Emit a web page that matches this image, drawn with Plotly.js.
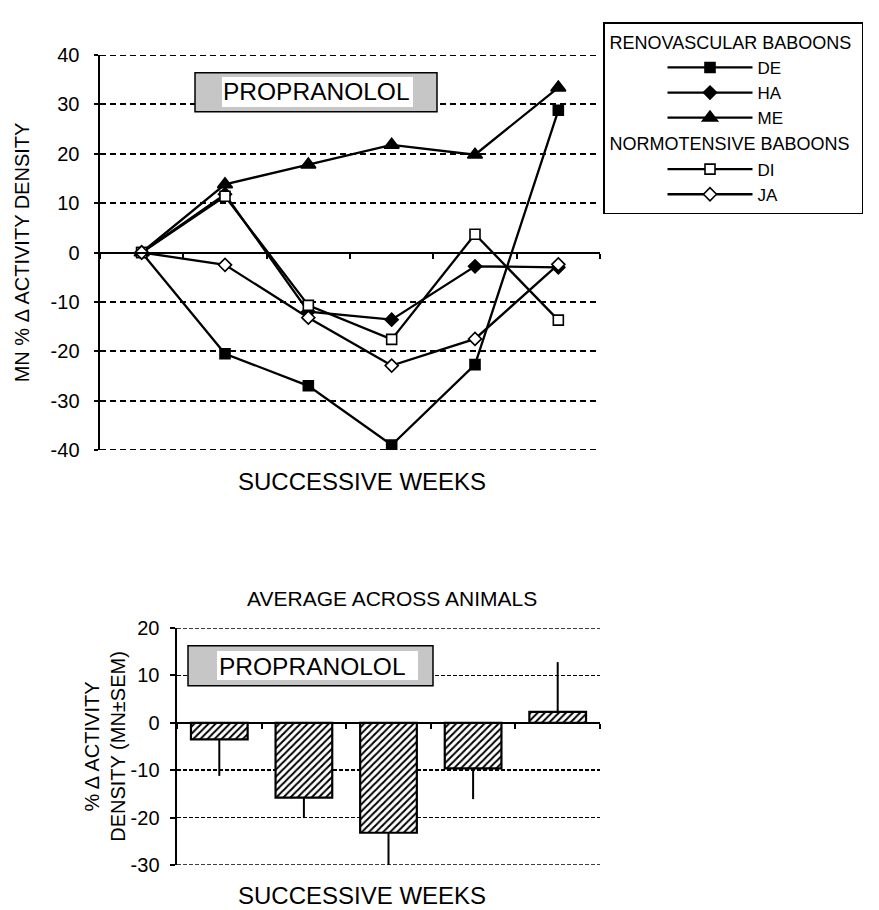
<!DOCTYPE html>
<html>
<head>
<meta charset="utf-8">
<script src="https://cdn.plot.ly/plotly-3.0.1.min.js"></script>
<style>html,body{margin:0;padding:0;background:#fff;}#chart{width:879px;height:910px;}</style>
</head>
<body>
<div id="chart"></div>
<script>
// ---------- data: top panel (individual animals) ----------
const weeksTop = [0, 1, 2, 3, 4, 5];
const seriesNames = ['DE', 'HA', 'ME', 'DI', 'JA'];
const valDE = [0, -20.5, -27, -39, -22.7, 28.8];
const valHA = [0, 11.8, -12, -13.6, -2.8, -3];
const valME = [0, 13.8, 17.8, 21.8, 19.8, 33.4];
const valDI = [0, 11.4, -10.7, -17.6, 3.7, -13.7];
const valJA = [0, -2.5, -13.2, -22.9, -17.5, -2.4];
const groupReno = 'RENOVASCULAR BABOONS';
const groupNormo = 'NORMOTENSIVE BABOONS';
const tickValsTop = [-40, -30, -20, -10, 0, 10, 20, 30, 40];
const tickTextTop = ['-40', '-30', '-20', '-10', '0', '10', '20', '30', '40'];

// ---------- data: bottom panel (average across animals) ----------
const weeksBottom = [1, 2, 3, 4, 5];
const avgVals = [-3.5, -15.8, -23.2, -9.6, 2.3];
const semVals = [7.7, 4.3, 6.8, 6.5, 10.5];
const tickValsBot = [-30, -20, -10, 0, 10, 20];
const tickTextBot = ['-30', '-20', '-10', '0', '10', '20'];

const txtX = 'SUCCESSIVE WEEKS';
const txtYTop = 'MN % Δ ACTIVITY DENSITY';
const txtYBot = '% Δ ACTIVITY<br>DENSITY (MN±SEM)';
const txtDrug = 'PROPRANOLOL';
const txtAvg = 'AVERAGE ACROSS ANIMALS';

const FONT = 'Liberation Sans, Arial, Helvetica, sans-serif';
const W = 879, H = 910;
const px = v => v / W;
const py = v => 1 - v / H;

function lineTrace(name, y, symbol, filled, group, gtitle) {
  return {
    type: 'scatter', mode: 'lines+markers', x: weeksTop, y: y, name: name,
    xaxis: 'x', yaxis: 'y',
    legendgroup: group, legendgrouptitle: {text: gtitle, font: {size: 18, color: '#000', family: FONT}},
    line: {color: '#000', width: 2.3},
    marker: {symbol: symbol, size: symbol === 'triangle-up' ? 13 : 10,
             color: filled ? '#000' : '#fff', line: {color: '#000', width: 1.6}}
  };
}

const traces = [
  lineTrace(seriesNames[0], valDE, 'square', true, 'reno', groupReno),
  lineTrace(seriesNames[1], valHA, 'diamond', true, 'reno', groupReno),
  lineTrace(seriesNames[2], valME, 'triangle-up', true, 'reno', groupReno),
  lineTrace(seriesNames[3], valDI, 'square', false, 'normo', groupNormo),
  lineTrace(seriesNames[4], valJA, 'diamond', false, 'normo', groupNormo),
  {
    type: 'bar', x: weeksBottom, y: avgVals, xaxis: 'x2', yaxis: 'y2', showlegend: false,
    width: 0.67,
    marker: {color: '#fff', line: {color: '#000', width: 2.2},
             pattern: {shape: '/', fgcolor: '#000', bgcolor: '#fff', size: 5, solidity: 0.4}},
    error_y: {type: 'data', symmetric: false,
              array: avgVals.map((v, i) => v >= 0 ? semVals[i] : 0),
              arrayminus: avgVals.map((v, i) => v < 0 ? semVals[i] : 0),
              color: '#000', thickness: 2, width: 0}
  }
];

const topDom = [py(450), py(55)];
const botDom = [py(865), py(628)];

const gridCommon = {gridcolor: '#000', showgrid: true, zeroline: false,
  showline: true, linecolor: '#000', ticks: 'outside', tickcolor: '#000',
  tickfont: {size: 20, color: '#000', family: FONT}, automargin: false};

// dashed lines at the outer gridline values (Plotly omits grid at the range edges)
function edgeGrid(xref, yref, yv, dash, w) {
  return {type: 'line', xref: xref + ' domain', yref: yref, x0: 0, x1: 1, y0: yv, y1: yv,
          line: {color: '#000', width: w, dash: dash}, layer: 'below'};
}

const layout = {
  width: W, height: H, margin: {l: 0, r: 0, t: 0, b: 0},
  paper_bgcolor: '#fff', plot_bgcolor: '#fff',
  font: {family: FONT, color: '#000'},
  xaxis: {domain: [px(100), px(600)], range: [-0.5, 5.5], anchor: 'free',
          position: topDom[0] + (topDom[1] - topDom[0]) * 0.5,
          showline: true, linecolor: '#000', linewidth: 2, showgrid: false, zeroline: false,
          ticks: 'outside', tick0: -0.5, dtick: 1, ticklen: 5, tickwidth: 2, tickcolor: '#000',
          showticklabels: false},
  yaxis: Object.assign({}, gridCommon, {domain: topDom, range: [-40, 40], anchor: 'x',
          tickmode: 'array', tickvals: tickValsTop, ticktext: tickTextTop,
          griddash: '6px,4px', gridwidth: 2, linewidth: 2.5, ticklen: 4, tickwidth: 2,
          ticklabelstandoff: 10,
          title: {text: txtYTop, font: {size: 20, color: '#000', family: FONT}, standoff: 16}}),
  xaxis2: {domain: [px(177), px(600)], range: [0.5, 5.5], anchor: 'free',
          position: botDom[0] + (botDom[1] - botDom[0]) * 0.6,
          showline: true, linecolor: '#000', linewidth: 2, showgrid: false, zeroline: false,
          ticks: 'outside', tick0: 0.5, dtick: 1, ticklen: 5, tickwidth: 2, tickcolor: '#000',
          showticklabels: false},
  yaxis2: Object.assign({}, gridCommon, {domain: botDom, range: [-30, 20], anchor: 'x2',
          tickmode: 'array', tickvals: tickValsBot, ticktext: tickTextBot,
          griddash: '4px,2px', gridwidth: 1.5, linewidth: 2.5, ticklen: 5, tickwidth: 2,
          ticklabelstandoff: 6,
          title: {text: txtYBot, font: {size: 20, color: '#000', family: FONT}, standoff: 0}}),
  legend: {x: px(603), y: py(22), xanchor: 'left', yanchor: 'top',
           bordercolor: '#000', borderwidth: 1.5, bgcolor: '#fff',
           font: {size: 17, color: '#000', family: FONT},
           tracegroupgap: 0, indentation: 58, itemwidth: 85},
  shapes: [
    edgeGrid('x', 'y', tickValsTop[tickValsTop.length - 1], '6px,4px', 2),
    edgeGrid('x', 'y', tickValsTop[0], '6px,4px', 2),
    edgeGrid('x2', 'y2', tickValsBot[tickValsBot.length - 1], '4px,2px', 1.5),
    edgeGrid('x2', 'y2', tickValsBot[0], '4px,2px', 1.5),
    {type: 'rect', xref: 'paper', yref: 'paper', x0: px(195), x1: px(437), y0: py(111.7), y1: py(72.7),
     fillcolor: '#c6c6c6', line: {color: '#000', width: 1.5}},
    {type: 'rect', xref: 'paper', yref: 'paper', x0: px(222), x1: px(413), y0: py(107), y1: py(77),
     fillcolor: '#fff', line: {width: 0}},
    {type: 'rect', xref: 'paper', yref: 'paper', x0: px(188), x1: px(433), y0: py(685.7), y1: py(645.7),
     fillcolor: '#c6c6c6', line: {color: '#000', width: 1.5}},
    {type: 'rect', xref: 'paper', yref: 'paper', x0: px(217), x1: px(418), y0: py(680), y1: py(651),
     fillcolor: '#fff', line: {width: 0}}
  ],
  annotations: [
    {text: txtDrug, xref: 'paper', yref: 'paper', x: px(316.5), y: py(92), xanchor: 'center', yanchor: 'middle',
     showarrow: false, font: {size: 24.5, color: '#000', family: FONT}},
    {text: txtDrug, xref: 'paper', yref: 'paper', x: px(312), y: py(666), xanchor: 'center', yanchor: 'middle',
     showarrow: false, font: {size: 24.5, color: '#000', family: FONT}},
    {text: txtX, xref: 'paper', yref: 'paper', x: px(362), y: py(481), xanchor: 'center', yanchor: 'middle',
     showarrow: false, font: {size: 24, color: '#000', family: FONT}},
    {text: txtX, xref: 'paper', yref: 'paper', x: px(362), y: py(895), xanchor: 'center', yanchor: 'middle',
     showarrow: false, font: {size: 24, color: '#000', family: FONT}},
    {text: txtAvg, xref: 'paper', yref: 'paper', x: px(391.5), y: py(598), xanchor: 'center', yanchor: 'middle',
     showarrow: false, font: {size: 21, color: '#000', family: FONT}}
  ]
};

Plotly.newPlot('chart', traces, layout, {staticPlot: true, displayModeBar: false});
</script>
</body>
</html>
